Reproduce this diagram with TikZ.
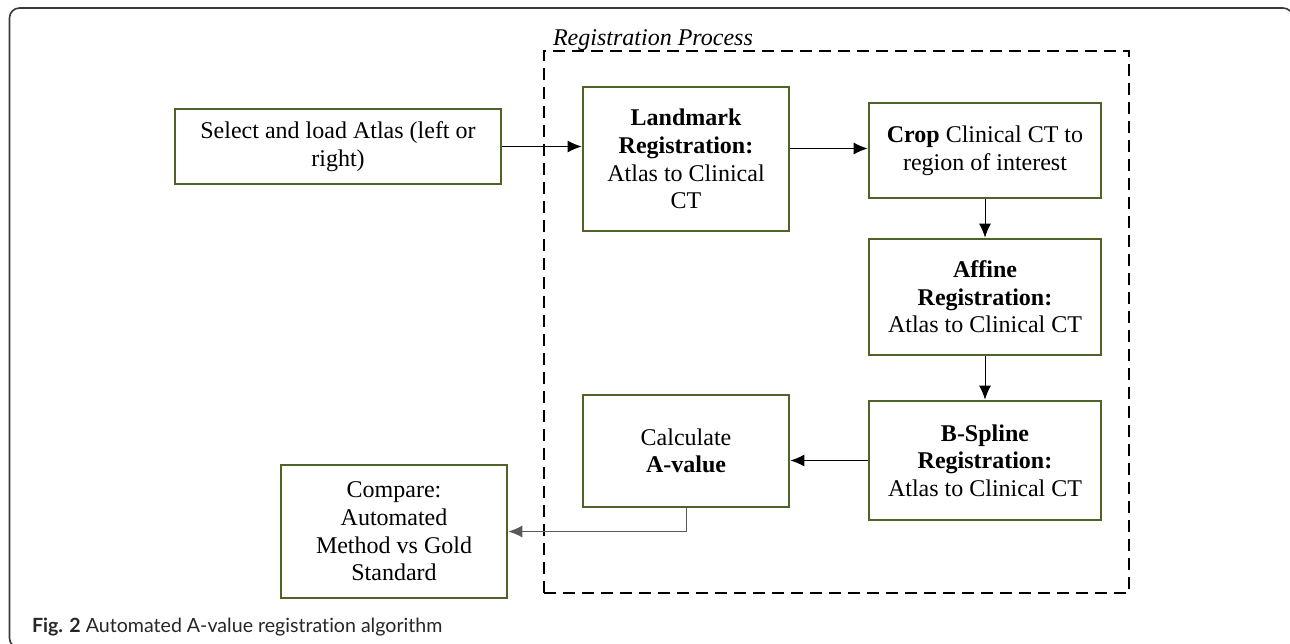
\documentclass[tikz,border=0pt]{standalone}
\usepackage{fontspec}
\setmainfont{Liberation Serif}
\setsansfont{Lato}[Ligatures=NoCommon]
\usetikzlibrary{arrows.meta}
\definecolor{ramkagreen}{HTML}{4F6228}
\definecolor{framegray}{HTML}{3A3A3A}

\begin{document}
\begin{tikzpicture}[
        x=0.5pt, y=-0.5pt, % pixel grid of the figure
        step box/.style = {draw=ramkagreen, line width=1.4pt, align=center,
                inner sep=2pt, font=\fontsize{12}{13.8}\selectfont}, % green blocks
        wide box/.style = {step box, minimum width=116pt},
        strelka/.style = {draw, line width=0.5pt, -{Latex[length=7pt,width=6pt]}},
        process/.style = {draw, line width=1pt, dash pattern=on 6pt off 3.5pt}, % dashed area
    ]
    \useasboundingbox (0,0) rectangle (1290,643);
    \clip (0,0) rectangle (1290,643);

    % outer frame of the figure
    \draw[framegray, line width=0.8pt, rounded corners=5pt] (9.5,8) rectangle (1293,648);

    % registration area
    \node (proc) [process, minimum width=292.5pt, minimum height=271pt] at (836.5,322) {};
    \node (title) [anchor=base west, font=\fontsize{12}{13.8}\selectfont\itshape] at (546,45) {Registration Process};

    % blocks
    \node (sel) [step box, minimum width=163pt, minimum height=37.5pt] at (338,146.5)
        {Select and load Atlas (left or\\right)};
    \node (land) [step box, minimum width=103pt, minimum height=72pt] at (686,159)
        {\textbf{Landmark}\\\textbf{Registration:}\\Atlas to Clinical\\CT};
    \node (crop) [wide box, minimum height=47.5pt] at (985,150.5)
        {\textbf{Crop} Clinical CT to\\region of interest};
    \node (aff) [wide box, minimum height=58pt] at (985,297)
        {\textbf{Affine}\\\textbf{Registration:}\\Atlas to Clinical CT};
    \node (bspl) [wide box, minimum height=59.5pt] at (985,460.5)
        {\textbf{B-Spline}\\\textbf{Registration:}\\Atlas to Clinical CT};
    \node (calc) [step box, minimum width=103pt, minimum height=56pt] at (686,451)
        {Calculate\\\textbf{A-value}};
    \node (comp) [step box, minimum width=113pt, minimum height=66.5pt] at (394,531.5)
        {Compare:\\Automated\\Method vs Gold\\Standard};

    % connectors
    \draw[strelka] (sel.east) -- (sel.east -| land.west);
    \draw[strelka] (crop.west -| land.east) ++(0,-2) -- ([yshift=1pt]crop.west);
    \draw[strelka] (crop.south) -- (aff.north);
    \draw[strelka] (aff.south) -- (bspl.north);
    \draw[strelka] (bspl.west) -- (bspl.west -| calc.east);
    \draw[strelka, draw=black!65] (calc.south) |- (comp.east);

    % caption
    \node (cap) [anchor=base west, font=\sffamily\fontsize{9.8}{12}\selectfont, text=black!85] at (25,632)
        {\textbf{Fig. 2} Automated A-value registration algorithm};
\end{tikzpicture}
\end{document}
